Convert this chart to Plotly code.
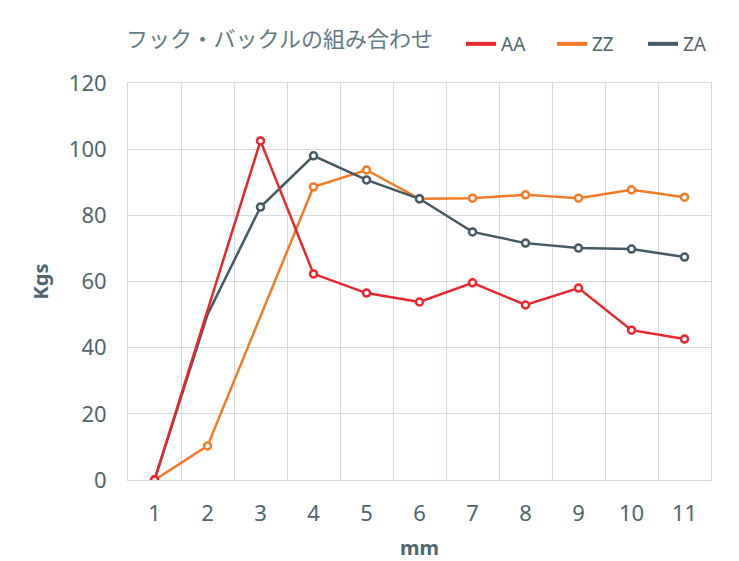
import plotly.graph_objects as go

categories = [1, 2, 3, 4, 5, 6, 7, 8, 9, 10, 11]
aa = [0, 51, 102.5, 62.3, 56.5, 53.8, 59.6, 52.9, 58.0, 45.3, 42.6]
zz = [0, 10.3, 49.5, 88.6, 93.7, 85.0, 85.2, 86.2, 85.2, 87.7, 85.5]
za = [0, 50, 82.5, 98.0, 90.7, 85.0, 75.0, 71.6, 70.1, 69.8, 67.4]
# points whose marker is not drawn in the original chart
aa_hidden = [2]
zz_hidden = [3]
za_hidden = [2]

title_text = "フック・バックルの組み合わせ"
x_title = "mm"
y_title = "Kgs"

TEXT = "#4f6670"
GRID = "#d5dae0"
FONT = "Noto Sans, Noto Sans CJK JP, sans-serif"

COLORS = {"AA": "#e8262d", "ZZ": "#f47a2a", "ZA": "#455a64"}
data = {"AA": (aa, aa_hidden), "ZZ": (zz, zz_hidden), "ZA": (za, za_hidden)}

W, H, OFF = 731, 553, 8  # page body has an 8px margin


def cx(px):
    return (px - OFF) / W


def cy(py):
    return 1 - (py - OFF) / H


def sizes(hidden):
    return [0 if c in hidden else 7 for c in categories]


fig = go.Figure()
# drawing order: ZZ bottom, ZA middle, AA top
for name in ["ZZ", "ZA", "AA"]:
    vals, hidden = data[name]
    color = COLORS[name]
    fig.add_trace(go.Scatter(
        x=categories, y=vals, name=name, mode="lines+markers",
        line=dict(color=color, width=2.5), showlegend=False,
        marker=dict(size=sizes(hidden), color="white", opacity=1,
                    line=dict(color=color, width=2.5)),
    ))
# legend entries (line only), in reference order
for name in ["AA", "ZZ", "ZA"]:
    fig.add_trace(go.Scatter(
        x=[None], y=[None], name=name, mode="lines",
        line=dict(color=COLORS[name], width=4),
    ))

fig.update_layout(
    width=W, height=H,
    margin=dict(l=128 - OFF, r=28, t=83 - OFF, b=81),
    paper_bgcolor="white", plot_bgcolor="white",
    font=dict(family=FONT, color=TEXT),
    title=dict(text=title_text, x=cx(126), xref="container", xanchor="left",
               y=cy(39), yref="container", yanchor="middle",
               font=dict(size=22, color="#637a84", family=FONT)),
    legend=dict(orientation="h", xref="container", yref="container",
                x=cx(461), xanchor="left", y=cy(44),
                yanchor="middle", font=dict(size=19, color=TEXT),
                itemwidth=30, entrywidth=46, entrywidthmode="pixels",
                bgcolor="rgba(0,0,0,0)"),
    xaxis=dict(
        range=[0.5, 11.5], tickmode="array", tickvals=categories,
        ticktext=[str(c) for c in categories], automargin=False,
        showgrid=False, zeroline=False,
        showline=True, linecolor=GRID, linewidth=1, mirror=True,
        tickfont=dict(size=22, color=TEXT), ticks="", ticklen=0,
        ticklabelstandoff=14,
        title=dict(text="<b>" + x_title + "</b>", font=dict(size=20, color=TEXT), standoff=14),
        minor=dict(tickvals=[c + 0.5 for c in categories[:-1]], showgrid=True,
                   gridcolor=GRID, gridwidth=1),
    ),
    yaxis=dict(
        range=[0, 120], dtick=20, showgrid=True, gridcolor=GRID, gridwidth=1,
        automargin=False,
        zeroline=False, showline=True, linecolor=GRID, linewidth=1, mirror=True,
        tickfont=dict(size=22, color=TEXT), ticks="", ticklen=0,
        ticklabelstandoff=16,
        title=dict(text="<b>" + y_title + "</b>", font=dict(size=20, color=TEXT), standoff=14),
    ),
)

fig.write_html("out.html")
